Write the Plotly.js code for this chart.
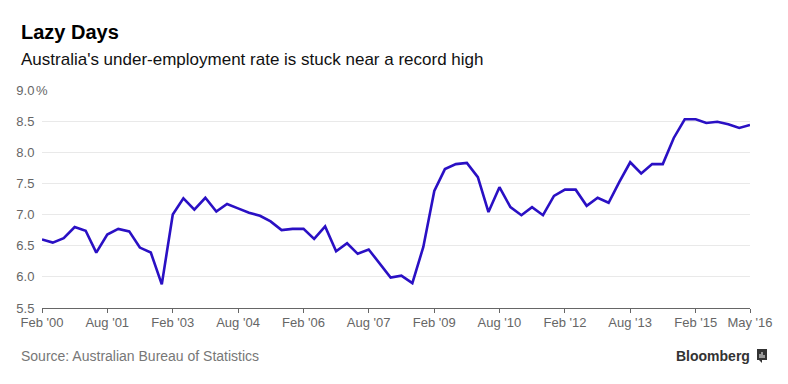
<!DOCTYPE html>
<html>
<head>
<meta charset="utf-8">
<script src="https://cdn.plot.ly/plotly-3.0.1.min.js"></script>
<style>html,body{margin:0;padding:0;background:#fff;}#chart{width:788px;height:384px;}</style>
</head>
<body>
<div id="chart"></div>
<script>
const quarters = [
  "2000-02","2000-05","2000-08","2000-11",
  "2001-02","2001-05","2001-08","2001-11",
  "2002-02","2002-05","2002-08","2002-11",
  "2003-02","2003-05","2003-08","2003-11",
  "2004-02","2004-05","2004-08","2004-11",
  "2005-02","2005-05","2005-08","2005-11",
  "2006-02","2006-05","2006-08","2006-11",
  "2007-02","2007-05","2007-08","2007-11",
  "2008-02","2008-05","2008-08","2008-11",
  "2009-02","2009-05","2009-08","2009-11",
  "2010-02","2010-05","2010-08","2010-11",
  "2011-02","2011-05","2011-08","2011-11",
  "2012-02","2012-05","2012-08","2012-11",
  "2013-02","2013-05","2013-08","2013-11",
  "2014-02","2014-05","2014-08","2014-11",
  "2015-02","2015-05","2015-08","2015-11",
  "2016-02","2016-05"
];
const underemployment = [
  6.60,6.55,6.62,6.80,
  6.74,6.39,6.68,6.77,
  6.73,6.47,6.39,5.88,
  7.00,7.26,7.08,7.27,
  7.05,7.17,7.10,7.03,
  6.98,6.89,6.75,6.77,
  6.77,6.61,6.81,6.41,
  6.54,6.37,6.44,6.22,
  5.99,6.02,5.90,6.48,
  7.38,7.73,7.81,7.83,
  7.60,7.04,7.44,7.12,
  6.99,7.12,6.99,7.30,
  7.40,7.40,7.14,7.27,
  7.19,7.52,7.84,7.66,
  7.81,7.81,8.23,8.53,
  8.53,8.47,8.49,8.45,
  8.39,8.44
];
const xTickVals = ["2000-02","2001-08","2003-02","2004-08","2006-02","2007-08","2009-02","2010-08","2012-02","2013-08","2015-02","2016-05"];
const xTickText = ["Feb '00","Aug '01","Feb '03","Aug '04","Feb '06","Aug '07","Feb '09","Aug '10","Feb '12","Aug '13","Feb '15","May '16"];
const yTickVals = [5.5,6.0,6.5,7.0,7.5,8.0,8.5,9.0];
const yTickText = ["5.5","6.0","6.5","7.0","7.5","8.0","8.5","9.0"];

const FONT = "Liberation Sans, Arial, Helvetica, sans-serif";
const W = 788, H = 384, L = 42, R = 38, T = 90, B = 76;
const pw = W - L - R, ph = H - T - B;
const px = x => (x - L) / pw;
const py = y => (H - B - y) / ph;

const trace = {
  x: quarters, y: underemployment, type: "scatter", mode: "lines",
  line: {color: "#2a10c4", width: 2.6}, hoverinfo: "skip"
};

const layout = {
  width: W, height: H,
  margin: {l: L, r: R, t: T, b: B, pad: 0},
  paper_bgcolor: "#fff", plot_bgcolor: "#fff",
  showlegend: false,
  font: {family: FONT, color: "#666", size: 13},
  xaxis: {
    type: "date", range: ["2000-02-01", "2016-05-01"],
    tickmode: "array", tickvals: xTickVals, ticktext: xTickText,
    showgrid: false, zeroline: false,
    showline: true, linecolor: "#666", linewidth: 1,
    ticks: "outside", ticklen: 4, tickcolor: "#666", tickwidth: 1,
    ticklabelstandoff: -2,
    tickfont: {family: FONT, size: 13, color: "#666"}
  },
  yaxis: {
    range: [5.5, 9.0], tickmode: "array", tickvals: yTickVals, ticktext: yTickText,
    showgrid: true, gridcolor: "#e9e9e9", gridwidth: 1, zeroline: false,
    showline: false, ticks: "outside", ticklen: 4, tickcolor: "rgba(0,0,0,0)",
    tickfont: {family: FONT, size: 13, color: "#666"}
  },
  annotations: [
    {xref: "paper", yref: "paper", x: px(35), y: 1, xanchor: "left", yanchor: "middle",
     text: "%", showarrow: false, bgcolor: "#fff", borderpad: 0,
     font: {family: FONT, size: 13, color: "#666"}},
    {xref: "paper", yref: "paper", x: px(19), y: py(32), xanchor: "left", yanchor: "middle",
     text: "<b>Lazy Days</b>", showarrow: false,
     font: {family: FONT, size: 20, color: "#000"}},
    {xref: "paper", yref: "paper", x: px(19), y: py(60), xanchor: "left", yanchor: "middle",
     text: "Australia's under-employment rate is stuck near a record high", showarrow: false,
     font: {family: FONT, size: 17, color: "#111"}},
    {xref: "paper", yref: "paper", x: px(19), y: py(356), xanchor: "left", yanchor: "middle",
     text: "Source: Australian Bureau of Statistics", showarrow: false,
     font: {family: FONT, size: 14, color: "#777"}},
    {xref: "paper", yref: "paper", x: px(752), y: py(356), xanchor: "right", yanchor: "middle",
     text: "<b>Bloomberg</b>", showarrow: false,
     font: {family: FONT, size: 14, color: "#333"}}
  ],
  shapes: [
    {type: "rect", xref: "paper", yref: "paper", x0: px(757), x1: px(767), y0: py(360), y1: py(349),
     fillcolor: "#333", line: {width: 0}},
    {type: "path", xref: "paper", yref: "paper",
     path: "M " + px(759) + " " + py(360) + " L " + px(762) + " " + py(363) + " L " + px(762) + " " + py(360) + " Z",
     fillcolor: "#333", line: {width: 0}},
    {type: "rect", xref: "paper", yref: "paper", x0: px(759.5), x1: px(760.5), y0: py(358), y1: py(354), fillcolor: "#fff", line: {width: 0}},
    {type: "rect", xref: "paper", yref: "paper", x0: px(761.5), x1: px(762.5), y0: py(358), y1: py(352), fillcolor: "#fff", line: {width: 0}},
    {type: "rect", xref: "paper", yref: "paper", x0: px(763.5), x1: px(764.5), y0: py(358), y1: py(355), fillcolor: "#fff", line: {width: 0}}
  ]
};

Plotly.newPlot("chart", [trace], layout, {staticPlot: true, displayModeBar: false});
</script>
</body>
</html>
